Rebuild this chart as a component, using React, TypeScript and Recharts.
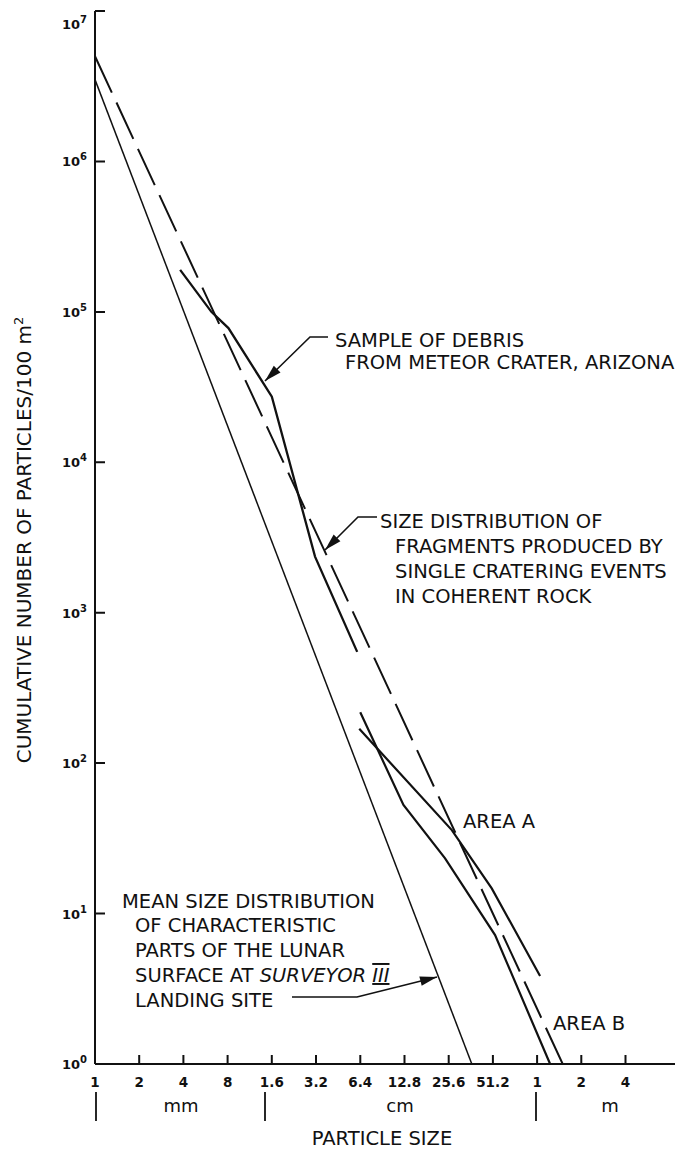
import React from "react";
import { ComposedChart, Line, XAxis, YAxis } from "recharts";

// Particle size axis (mm), one tick per doubling, labelled in mm / cm / m
const sizeTicksMm = [1, 2, 4, 8, 16, 32, 64, 128, 256, 512, 1024, 2048, 4096];
const sizeTickLabels = ["1", "2", "4", "8", "1.6", "3.2", "6.4", "12.8", "25.6", "51.2", "1", "2", "4"];

// Cumulative count axis (per 100 m²), one tick per decade
const countTicks = [1, 10, 100, 1e3, 1e4, 1e5, 1e6, 1e7];
const countExponents = ["0", "1", "2", "3", "4", "5", "6", "7"];

// Mean size distribution, Surveyor III landing site
const surveyorSizeMm = [1, 368];
const surveyorCount = [3.5e6, 1];

// Fragments produced by single cratering events in coherent rock
const crateringSizeMm = [1, 1530];
const crateringCount = [5.0e6, 1];

// Debris sample from Meteor Crater, Arizona
const meteorSizeMm = [3.8, 6.2, 8.1, 16, 31.5, 61];
const meteorCount = [1.9e5, 1.0e5, 7.8e4, 2.73e4, 2360, 549];

// Area A
const areaASizeMm = [63, 269, 503, 1073];
const areaACount = [169, 35.9, 14.7, 3.85];

// Area B
const areaBSizeMm = [64, 126, 242, 530, 1256];
const areaBCount = [218, 52.7, 23.3, 7.2, 1];

const toPoints = (sizes: number[], counts: number[]) =>
  sizes.map((size, i) => ({ size, count: counts[i] }));

const FONT = "'DejaVu Sans', 'Liberation Sans', sans-serif";
const INK = "#111";

const W = 679;
const H = 1150;
const PLOT = { left: 95, top: 11, right: 675, bottom: 1064 };
const SIZE_DOMAIN: [number, number] = [1, 8900];
const COUNT_DOMAIN: [number, number] = [1, 1e7];

// same log mapping as the chart axes, for the inward tick marks
const sizeToX = (s: number) =>
  PLOT.left +
  ((Math.log(s) - Math.log(SIZE_DOMAIN[0])) / (Math.log(SIZE_DOMAIN[1]) - Math.log(SIZE_DOMAIN[0]))) *
    (PLOT.right - PLOT.left);
const countToY = (c: number) =>
  PLOT.bottom -
  ((Math.log(c) - Math.log(COUNT_DOMAIN[0])) / (Math.log(COUNT_DOMAIN[1]) - Math.log(COUNT_DOMAIN[0]))) *
    (PLOT.bottom - PLOT.top);

const SizeTick = (props: any) => {
  const { x, y, payload } = props;
  const idx = sizeTicksMm.indexOf(payload.value);
  const label = idx >= 0 ? sizeTickLabels[idx] : "";
  return (
    <text
      x={x}
      y={y + 23}
      textAnchor="middle"
      fontFamily={FONT}
      fontWeight="bold"
      fontSize={13.5}
      fill={INK}
    >
      {label}
    </text>
  );
};

const CountTick = (props: any) => {
  const { y, payload } = props;
  const idx = countTicks.indexOf(payload.value);
  const exp = idx >= 0 ? countExponents[idx] : "";
  const dy = payload.value === 1e7 ? 13 : 0;
  return (
    <text
      x={PLOT.left - 8}
      y={y + 5 + dy}
      textAnchor="end"
      fontFamily={FONT}
      fontWeight="bold"
      fontSize={13}
      fill={INK}
    >
      10
      <tspan fontSize={10} dy={-6}>
        {exp}
      </tspan>
    </text>
  );
};

type Pt = [number, number];

const Leader = ({ points }: { points: Pt[] }) => {
  const tip = points[points.length - 1];
  const prev = points[points.length - 2];
  const dx = tip[0] - prev[0];
  const dy = tip[1] - prev[1];
  const len = Math.hypot(dx, dy);
  const ux = dx / len;
  const uy = dy / len;
  const L = 17;
  const HW = 4.8;
  const bx = tip[0] - ux * L;
  const by = tip[1] - uy * L;
  const head = `${tip[0]},${tip[1]} ${bx - uy * HW},${by + ux * HW} ${bx + uy * HW},${by - ux * HW}`;
  return (
    <g>
      <polyline
        points={points.map((p) => p.join(",")).join(" ")}
        fill="none"
        stroke={INK}
        strokeWidth={1.6}
      />
      <polygon points={head} fill={INK} />
    </g>
  );
};

const Label = ({ x, y, children }: { x: number; y: number; children: React.ReactNode }) => (
  <text x={x} y={y} fontFamily={FONT} fontSize={19.5} fill={INK}>
    {children}
  </text>
);

// inward tick marks as a single path
const tickPath =
  sizeTicksMm
    .slice(1)
    .map((s) => `M${sizeToX(s).toFixed(1)},${PLOT.bottom} v-9`)
    .join(" ") +
  " " +
  countTicks
    .slice(1)
    .map((c) => `M${PLOT.left},${countToY(c).toFixed(1)} h10`)
    .join(" ");

const Annotations = () => (
  <svg
    width={W}
    height={H}
    style={{ position: "absolute", left: 0, top: 0, pointerEvents: "none" }}
  >
    <path d={tickPath} stroke={INK} strokeWidth={2} fill="none" />

    {/* vertical axis title */}
    <text
      transform="translate(31,540) rotate(-90)"
      textAnchor="middle"
      fontFamily={FONT}
      fontSize={20}
      fill={INK}
    >
      CUMULATIVE NUMBER OF PARTICLES/100 m
      <tspan fontSize={13} dy={-8}>
        2
      </tspan>
    </text>

    {/* unit row under the size axis */}
    {[96, 265, 536].map((x) => (
      <line key={x} x1={x} y1={1092} x2={x} y2={1121} stroke={INK} strokeWidth={1.8} />
    ))}
    <text x={181} y={1112} textAnchor="middle" fontFamily={FONT} fontSize={18} fill={INK}>
      mm
    </text>
    <text x={400} y={1112} textAnchor="middle" fontFamily={FONT} fontSize={18} fill={INK}>
      cm
    </text>
    <text x={610} y={1112} textAnchor="middle" fontFamily={FONT} fontSize={18} fill={INK}>
      m
    </text>
    <text x={382} y={1145} textAnchor="middle" fontFamily={FONT} fontSize={19.5} fill={INK}>
      PARTICLE SIZE
    </text>

    {/* Meteor Crater sample */}
    <Label x={335} y={347}>SAMPLE OF DEBRIS</Label>
    <Label x={345} y={369}>FROM METEOR CRATER, ARIZONA</Label>
    <Leader points={[[328, 337], [310, 337], [265, 381]]} />

    {/* single cratering events */}
    <Label x={380} y={528}>SIZE DISTRIBUTION OF</Label>
    <Label x={395} y={553}>FRAGMENTS PRODUCED BY</Label>
    <Label x={395} y={578}>SINGLE CRATERING EVENTS</Label>
    <Label x={395} y={603}>IN COHERENT ROCK</Label>
    <Leader points={[[377, 517], [358, 517], [325, 550]]} />

    {/* areas */}
    <Label x={463} y={828}>AREA A</Label>
    <Label x={553} y={1030}>AREA B</Label>

    {/* Surveyor III */}
    <Label x={122} y={908}>MEAN SIZE DISTRIBUTION</Label>
    <Label x={135} y={932}>OF CHARACTERISTIC</Label>
    <Label x={135} y={957}>PARTS OF THE LUNAR</Label>
    <Label x={135} y={982}>
      SURFACE AT <tspan fontStyle="italic">SURVEYOR </tspan>
      <tspan fontStyle="italic" textDecoration="underline overline">III</tspan>
    </Label>
    <Label x={135} y={1007}>LANDING SITE</Label>
    <Leader points={[[292, 997], [357, 997], [437, 977]]} />
  </svg>
);

export default function App() {
  return (
    <div style={{ position: "absolute", left: 0, top: 0, width: W, height: H, background: "#fff" }}>
      <ComposedChart
        width={W}
        height={H}
        margin={{ top: PLOT.top, right: W - PLOT.right, bottom: H - PLOT.bottom - 1, left: PLOT.left - 1 }}
      >
        <XAxis
          type="number"
          dataKey="size"
          scale="log"
          domain={SIZE_DOMAIN}
          allowDataOverflow
          ticks={sizeTicksMm}
          interval={0}
          height={1}
          tickSize={0}
          tickMargin={0}
          tickLine={false}
          axisLine={{ stroke: INK, strokeWidth: 2 }}
          tick={<SizeTick />}
        />
        <YAxis
          type="number"
          dataKey="count"
          scale="log"
          domain={COUNT_DOMAIN}
          allowDataOverflow
          ticks={countTicks}
          interval={0}
          width={1}
          tickSize={0}
          tickMargin={0}
          tickLine={false}
          axisLine={{ stroke: INK, strokeWidth: 2 }}
          tick={<CountTick />}
        />
        <Line
          data={toPoints(surveyorSizeMm, surveyorCount)}
          dataKey="count"
          type="linear"
          stroke={INK}
          strokeWidth={1.5}
          dot={false}
          isAnimationActive={false}
        />
        <Line
          data={toPoints(crateringSizeMm, crateringCount)}
          dataKey="count"
          type="linear"
          stroke={INK}
          strokeWidth={2}
          strokeDasharray="40 11"
          dot={false}
          isAnimationActive={false}
        />
        <Line
          data={toPoints(meteorSizeMm, meteorCount)}
          dataKey="count"
          type="linear"
          stroke={INK}
          strokeWidth={2.3}
          dot={false}
          isAnimationActive={false}
        />
        <Line
          data={toPoints(areaASizeMm, areaACount)}
          dataKey="count"
          type="linear"
          stroke={INK}
          strokeWidth={2.2}
          dot={false}
          isAnimationActive={false}
        />
        <Line
          data={toPoints(areaBSizeMm, areaBCount)}
          dataKey="count"
          type="linear"
          stroke={INK}
          strokeWidth={2.2}
          dot={false}
          isAnimationActive={false}
        />
      </ComposedChart>
      <Annotations />
    </div>
  );
}
